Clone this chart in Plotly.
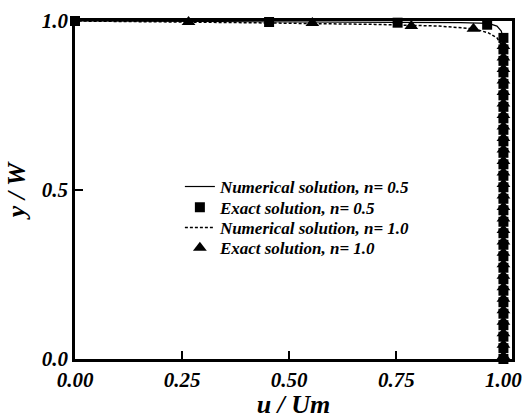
import plotly.graph_objects as go

# Numerical solution, n = 0.5 (solid)
num05_u = [1.0, 1.0, 0.999, 0.995, 0.985, 0.965, 0.90, 0.75, 0.45, 0.0]
num05_y = [0.0, 0.90, 0.95, 0.97, 0.985, 0.993, 0.995, 0.996, 0.998, 1.0]

# Numerical solution, n = 1.0 (dotted)
num10_u = [1.0, 1.0, 0.995, 0.985, 0.965, 0.93, 0.85, 0.70, 0.40, 0.0]
num10_y = [0.0, 0.90, 0.93, 0.95, 0.965, 0.977, 0.985, 0.99, 0.995, 1.0]

# Exact solution, n = 0.5 (squares)
ex05_u = [0.0, 0.453, 0.753, 0.962,
          1.0, 1.0, 1.0, 1.0, 1.0, 1.0, 1.0, 1.0, 1.0, 1.0,
          1.0, 1.0, 1.0, 1.0, 1.0, 1.0, 1.0, 1.0, 1.0, 1.0,
          1.0, 1.0, 1.0, 1.0, 1.0, 1.0, 1.0, 1.0, 1.0]
ex05_y = [1.0, 0.997, 0.995, 0.989,
          0.95, 0.916, 0.882, 0.848, 0.814, 0.780, 0.746, 0.712, 0.678, 0.644,
          0.610, 0.576, 0.542, 0.508, 0.474, 0.440, 0.406, 0.372, 0.338, 0.304,
          0.270, 0.236, 0.202, 0.168, 0.134, 0.100, 0.066, 0.032, 0.0]

# Exact solution, n = 1.0 (triangles)
ex10_u = [0.265, 0.554, 0.785, 0.93,
          1.0, 1.0, 1.0, 1.0, 1.0, 1.0, 1.0, 1.0, 1.0, 1.0,
          1.0, 1.0, 1.0, 1.0, 1.0, 1.0, 1.0, 1.0, 1.0, 1.0,
          1.0, 1.0, 1.0, 1.0, 1.0, 1.0, 1.0, 1.0]
ex10_y = [0.997, 0.994, 0.985, 0.977,
          0.926, 0.892, 0.858, 0.824, 0.790, 0.756, 0.722, 0.688, 0.654, 0.620,
          0.586, 0.552, 0.518, 0.484, 0.450, 0.416, 0.382, 0.348, 0.314, 0.280,
          0.246, 0.212, 0.178, 0.144, 0.110, 0.076, 0.042, 0.008]

x_ticks = [0.0, 0.25, 0.5, 0.75, 1.0]
y_ticks = [0.0, 0.5, 1.0]

FONT = "Liberation Serif, Times New Roman, serif"
leg_font = dict(family=FONT, size=17, color="black", weight="bold", style="italic")

fig = go.Figure()
fig.add_trace(go.Scatter(x=num05_u, y=num05_y, mode="lines",
                         line=dict(color="black", width=1.2),
                         name="Numerical solution, n= 0.5", cliponaxis=False,
                         legend="legend"))
fig.add_trace(go.Scatter(x=ex05_u, y=ex05_y, mode="markers",
                         marker=dict(symbol="square", size=10, color="black"),
                         name="Exact solution, n= 0.5", cliponaxis=False,
                         legend="legend2"))
fig.add_trace(go.Scatter(x=num10_u, y=num10_y, mode="lines",
                         line=dict(color="black", width=1.5, dash="3px,2px"),
                         name="Numerical solution, n= 1.0", cliponaxis=False,
                         legend="legend3"))
fig.add_trace(go.Scatter(x=ex10_u, y=ex10_y, mode="markers",
                         marker=dict(symbol="triangle-up", size=12, color="black"),
                         name="Exact solution, n= 1.0", cliponaxis=False,
                         legend="legend4"))

axis_common = dict(
    showgrid=False, zeroline=False, showline=True, linecolor="black", linewidth=2.5,
    mirror=True, ticks="inside", ticklen=8, tickwidth=2, tickcolor="black",
    tickfont=dict(family=FONT, size=21, color="black", weight="bold", style="italic"),
)

fig.update_xaxes(range=[0, 1.02], tickvals=x_ticks, tickformat=".2f",
                 title=dict(text="u / Um", standoff=0,
                            font=dict(family=FONT, size=26, color="black", weight="bold", style="italic")),
                 **axis_common)
fig.update_yaxes(range=[0, 1.0], tickvals=y_ticks, tickformat=".1f",
                 title=dict(text="y / W", standoff=9,
                            font=dict(family=FONT, size=26, color="black", weight="bold", style="italic")),
                 **axis_common)

def leg(yc):
    return dict(x=0.24, y=yc, xanchor="left", yanchor="middle",
                bgcolor="rgba(0,0,0,0)", font=leg_font)

fig.update_layout(
    width=531, height=419,
    margin=dict(l=75, r=9, t=14, b=57),
    paper_bgcolor="white", plot_bgcolor="white",
    showlegend=True,
    legend=leg(0.509),
    legend2=leg(0.448),
    legend3=leg(0.388),
    legend4=leg(0.328),
)

fig.write_html("out.html")
